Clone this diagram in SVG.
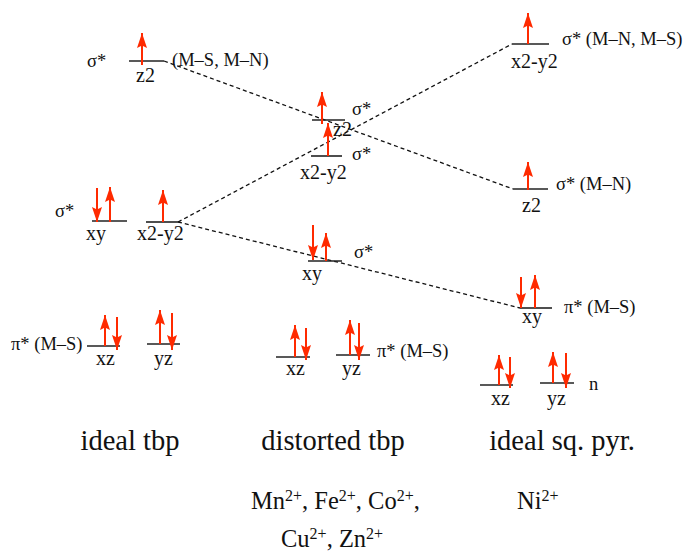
<svg xmlns="http://www.w3.org/2000/svg" width="691" height="552" viewBox="0 0 691 552" font-family="'Liberation Serif', 'Times New Roman', Times, 'DejaVu Serif', serif">
<defs>
<marker id="ah" markerUnits="userSpaceOnUse" markerWidth="16" markerHeight="11" refX="15" refY="5" orient="auto">
<path d="M0,0 L15,5 L0,10 L2.5,5 z" fill="#ff2a00"/>
</marker>
<style>
text{font-family:'Liberation Serif','Times New Roman',Times,'DejaVu Serif',serif;fill:#111}
.lb{font-size:20px}
.an{font-size:18.5px}
.big{font-size:28.5px;text-anchor:middle}
.ion{font-size:24.5px}
.lv{stroke:#222;stroke-width:1.6;fill:none}
.e{stroke:#ff2a00;stroke-width:2;fill:none;marker-end:url(#ah)}
.dl{stroke:#111;stroke-width:1.3;stroke-dasharray:4 3;fill:none}
</style>
</defs>
<rect width="691" height="552" fill="#fff"/>
<g id="connectors">
<line class="dl" x1="164" y1="61" x2="513" y2="189"/>
<line class="dl" x1="178" y1="222" x2="512" y2="44"/>
<line class="dl" x1="178" y1="222" x2="520" y2="308"/>
</g>
<g id="tbp-z2">
<line class="lv" x1="129" y1="61" x2="164" y2="61"/>
<line class="e" x1="142" y1="65" x2="142" y2="33"/>
<text class="an" x="87" y="67">σ*</text>
<text class="lb" x="136" y="82">z2</text>
<text class="an" x="172" y="66">(M–S, M–N)</text>
</g>
<g id="tbp-xy">
<line class="lv" x1="92" y1="221" x2="127" y2="221"/>
<line class="e" x1="97" y1="188" x2="97" y2="222"/>
<line class="e" x1="110" y1="222" x2="110" y2="187"/>
<text class="an" x="55" y="217">σ*</text>
<text class="lb" x="86" y="240">xy</text>
</g>
<g id="tbp-x2y2">
<line class="lv" x1="146" y1="222" x2="178" y2="222"/>
<line class="e" x1="163" y1="222" x2="163" y2="190"/>
<text class="lb" x="137" y="240">x2-y2</text>
</g>
<g id="tbp-xz">
<line class="lv" x1="87" y1="346" x2="120" y2="346"/>
<line class="e" x1="105" y1="346" x2="105" y2="315"/>
<line class="e" x1="117" y1="317" x2="117" y2="350"/>
<text class="an" x="11" y="350">π* (M–S)</text>
<text class="lb" x="96" y="365">xz</text>
</g>
<g id="tbp-yz">
<line class="lv" x1="147" y1="344" x2="180" y2="344"/>
<line class="e" x1="160" y1="344" x2="160" y2="310"/>
<line class="e" x1="172" y1="313" x2="172" y2="350"/>
<text class="lb" x="154" y="365">yz</text>
</g>
<g id="dist-z2">
<line class="lv" x1="312" y1="120" x2="345" y2="120"/>
<line class="e" x1="322" y1="124" x2="322" y2="92"/>
<text class="an" x="352" y="115">σ*</text>
<text class="lb" x="333" y="136">z2</text>
</g>
<g id="dist-x2y2">
<line class="lv" x1="311" y1="156" x2="342" y2="156"/>
<line class="e" x1="328" y1="156" x2="328" y2="123"/>
<text class="an" x="352" y="160">σ*</text>
<text class="lb" x="300" y="179">x2-y2</text>
</g>
<g id="dist-xy">
<line class="lv" x1="308" y1="261" x2="342" y2="261"/>
<line class="e" x1="313" y1="225" x2="313" y2="260"/>
<line class="e" x1="326" y1="261" x2="326" y2="233"/>
<text class="an" x="354" y="258">σ*</text>
<text class="lb" x="302" y="280">xy</text>
</g>
<g id="dist-xz">
<line class="lv" x1="276" y1="357" x2="310" y2="357"/>
<line class="e" x1="295" y1="357" x2="295" y2="325"/>
<line class="e" x1="306" y1="328" x2="306" y2="360"/>
<text class="lb" x="286" y="375">xz</text>
</g>
<g id="dist-yz">
<line class="lv" x1="336" y1="355" x2="370" y2="355"/>
<line class="e" x1="350" y1="355" x2="350" y2="320"/>
<line class="e" x1="359" y1="323" x2="359" y2="360"/>
<text class="lb" x="342" y="375">yz</text>
<text class="an" x="377" y="357">π* (M–S)</text>
</g>
<g id="sq-x2y2">
<line class="lv" x1="512" y1="44" x2="549" y2="44"/>
<line class="e" x1="528" y1="44" x2="528" y2="13"/>
<text class="an" x="562" y="45">σ* (M–N, M–S)</text>
<text class="lb" x="511" y="68">x2-y2</text>
</g>
<g id="sq-z2">
<line class="lv" x1="513" y1="189" x2="548" y2="189"/>
<line class="e" x1="528" y1="190" x2="528" y2="162"/>
<text class="an" x="556" y="190">σ* (M–N)</text>
<text class="lb" x="522" y="212">z2</text>
</g>
<g id="sq-xy">
<line class="lv" x1="520" y1="308" x2="552" y2="308"/>
<line class="e" x1="521" y1="277" x2="521" y2="308"/>
<line class="e" x1="535" y1="308" x2="535" y2="275"/>
<text class="an" x="564" y="313">π* (M–S)</text>
<text class="lb" x="522" y="323">xy</text>
</g>
<g id="sq-xz">
<line class="lv" x1="480" y1="385" x2="513" y2="385"/>
<line class="e" x1="499" y1="385" x2="499" y2="355"/>
<line class="e" x1="510" y1="357" x2="510" y2="388"/>
<text class="lb" x="491" y="405">xz</text>
</g>
<g id="sq-yz">
<line class="lv" x1="540" y1="383" x2="574" y2="383"/>
<line class="e" x1="553" y1="383" x2="553" y2="352"/>
<line class="e" x1="566" y1="353" x2="566" y2="388"/>
<text class="lb" x="547" y="405">yz</text>
<text class="an" x="589" y="390">n</text>
</g>
<g id="titles">
<text class="big" x="130" y="450">ideal tbp</text>
<text class="big" x="333" y="450">distorted tbp</text>
<text class="big" x="562" y="450">ideal sq. pyr.</text>
</g>
<g id="ions">
<text class="ion" x="251" y="509">Mn<tspan font-size="16" dy="-8">2+</tspan><tspan dy="8">, Fe</tspan><tspan font-size="16" dy="-8">2+</tspan><tspan dy="8">, Co</tspan><tspan font-size="16" dy="-8">2+</tspan><tspan dy="8">,</tspan></text>
<text class="ion" x="281" y="547">Cu<tspan font-size="16" dy="-8">2+</tspan><tspan dy="8">, Zn</tspan><tspan font-size="16" dy="-8">2+</tspan></text>
<text class="ion" x="517" y="509">Ni<tspan font-size="16" dy="-8">2+</tspan></text>
</g>
</svg>
